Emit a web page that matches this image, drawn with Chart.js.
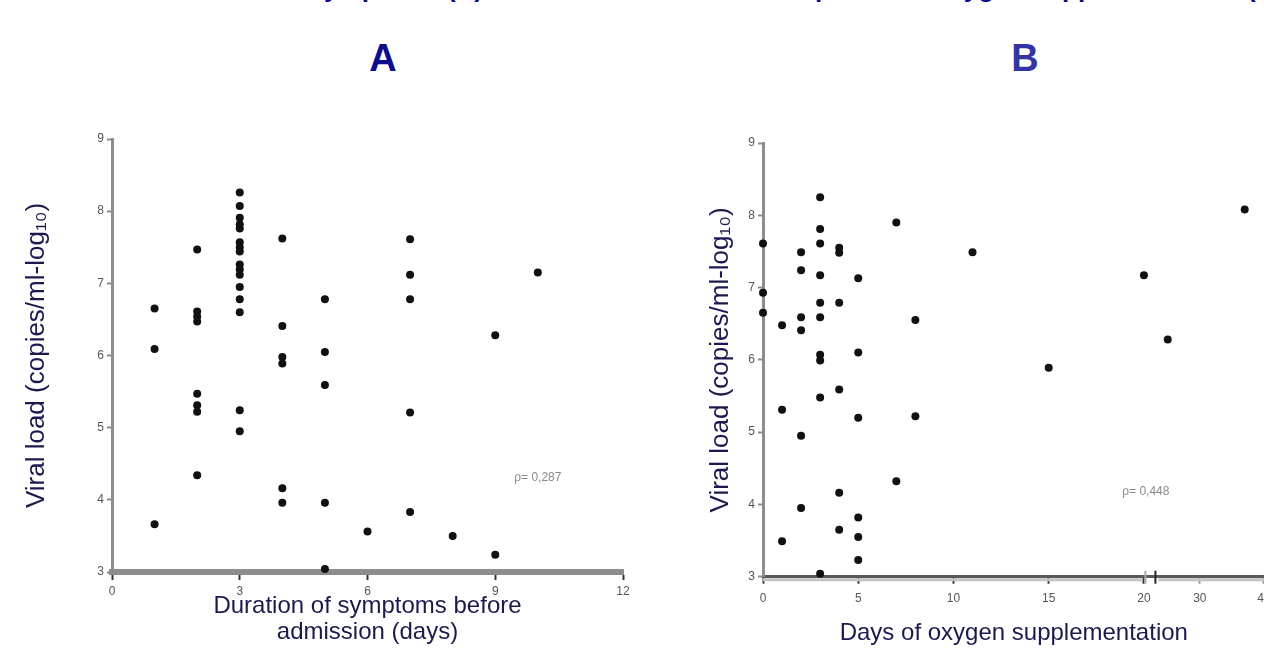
<!DOCTYPE html>
<html><head><meta charset="utf-8">
<script src="https://cdn.jsdelivr.net/npm/chart.js@4"></script>
<style>
html,body{margin:0;padding:0;width:1264px;height:671px;overflow:hidden;background:#fff;position:relative;font-family:"Liberation Sans",Arial,sans-serif}
.t{position:absolute;white-space:nowrap;font-weight:bold;font-size:26px;line-height:30px;color:#0c0c8c;top:-27px}
.h{position:absolute;font-weight:bold;font-size:38px;line-height:40px;width:100px;text-align:center;top:38px}
#ca{position:absolute;left:0;top:100px}
#cb{position:absolute;left:680px;top:100px}
</style></head>
<body>
<div class="t" style="right:781px">Correlation between viral load and duration of symptoms (A)</div>
<div class="t" style="right:-19px">and period of oxygen supplementation (B)</div>
<div class="h" style="left:333px;color:#0c0c8c">A</div>
<div class="h" style="left:975px;color:#3434a4">B</div>
<canvas id="ca" width="645" height="571"></canvas>
<canvas id="cb" width="620" height="571"></canvas>
<script>
// ---- Panel A: duration of symptoms before admission (days) vs viral load (log10 copies/ml)
const aDays = [1,1,1, 2,2,2,2,2,2,2,2, 3,3,3,3,3,3,3,3,3,3,3,3,3,3,3,3, 4,4,4,4,4,4, 5,5,5,5,5, 6, 7,7,7,7,7, 8, 9,9, 10];
const aLoad = [6.65,6.09,3.66, 7.47,6.61,6.54,6.47,5.47,5.31,5.22,4.34,
  8.26,8.07,7.91,7.82,7.76,7.57,7.50,7.44,7.26,7.19,7.12,6.95,6.78,6.60,5.24,4.95,
  7.62,6.41,5.98,5.89,4.16,3.96, 6.78,6.05,5.59,3.96,3.04, 3.56,
  7.61,7.12,6.78,5.21,3.83, 3.50, 6.28,3.24, 7.15];
// ---- Panel B: days of oxygen supplementation vs viral load
const bDays = [3,0,2,3,3,4,4,7,11,2,3,5,20,0,3,4,0,2,3,1,2,8,3,3,5,15,4,3,1,5,8,2,7,4,2,5,4,5,1,5,3, 25,37];
const bLoad = [8.25,7.61,7.49,7.81,7.61,7.55,7.48,7.90,7.49,7.24,7.17,7.13,7.17,6.93,6.79,6.79,6.65,6.59,6.59,6.48,6.41,6.55,6.07,5.99,6.10,5.89,5.59,5.48,5.31,5.20,5.22,4.95,4.32,4.16,3.95,3.82,3.65,3.55,3.49,3.23,3.04, 6.28,8.08];
const yTicks = [3,4,5,6,7,8,9];
const aXTicks = [0,3,6,9,12];
const bXTicks = [0,5,10,15,20];
const bXTicksLate = [30,40];
const BREAK_AT = 21;
const aRho = 'ρ= 0,287';
const bRho = 'ρ= 0,448';
const yTitle = 'Viral load (copies/ml-log₁₀)';
const aXTitle = ['Duration of symptoms before','admission (days)'];
const bXTitle = 'Days of oxygen supplementation';

Chart.defaults.font.family = "'Liberation Sans', Arial, 'DejaVu Sans', sans-serif";
const TITLE_COLOR = '#1a1a4e';
const TICK_COLOR = '#555';

const rhoPlugin = {
  id: 'rho',
  afterDatasetsDraw(chart, args, opts) {
    const xs = chart.scales[opts.xAxis], ys = chart.scales.y, ctx = chart.ctx;
    ctx.save();
    ctx.font = "12px 'Liberation Sans', Arial, sans-serif";
    ctx.fillStyle = '#8a8a8a';
    ctx.textAlign = 'center';
    ctx.textBaseline = 'middle';
    ctx.fillText(opts.text, xs.getPixelForValue(opts.x), ys.getPixelForValue(opts.y));
    ctx.restore();
  }
};
const breakPlugin = {
  id: 'axisBreak',
  afterDraw(chart) {
    if (!chart.scales.x2) return;
    const ctx = chart.ctx, xs = chart.scales.x, b = chart.chartArea.bottom;
    ctx.save();
    ctx.lineWidth = 2;
    ctx.strokeStyle = '#aaa';
    ctx.beginPath(); ctx.moveTo(xs.right - 5, b - 6); ctx.lineTo(xs.right - 5, b + 7); ctx.stroke();
    ctx.strokeStyle = '#222';
    ctx.beginPath(); ctx.moveTo(xs.right + 5, b - 6); ctx.lineTo(xs.right + 5, b + 7); ctx.stroke();
    // light band under the dark axis line
    ctx.strokeStyle = '#c4c4c4';
    ctx.lineWidth = 3;
    ctx.beginPath(); ctx.moveTo(chart.chartArea.left, b + 3); ctx.lineTo(xs.right - 8, b + 3); ctx.moveTo(xs.right + 8, b + 3); ctx.lineTo(chart.chartArea.right, b + 3); ctx.stroke();
    ctx.restore();
  }
};

function pts(days, load, keep) {
  const out = [];
  days.forEach((d, i) => { if (keep(d)) out.push({x: d, y: load[i]}); });
  return out;
}
function pointDs(data, axis) {
  return {data, xAxisID: axis, pointRadius: 4, pointHoverRadius: 4, backgroundColor: '#111', borderWidth: 0, clip: false};
}
function yScale(width, titlePad) {
  return {
    type: 'linear', min: 3, max: 9,
    afterBuildTicks: s => { s.ticks = yTicks.map(v => ({value: v})); },
    afterFit: s => { s.width = width; },
    border: {display: true, color: '#8d8d8d', width: 3},
    grid: {display: true, drawOnChartArea: false, drawTicks: true, tickLength: 5, tickColor: '#8d8d8d', tickWidth: 2},
    ticks: {color: TICK_COLOR, font: {size: 12}, padding: 3},
    title: {display: true, text: yTitle, color: TITLE_COLOR, font: {size: 26, lineHeight: 1.2}, padding: {top: titlePad, bottom: 0}}
  };
}

new Chart(document.getElementById('ca'), {
  type: 'scatter',
  data: {datasets: [pointDs(pts(aDays, aLoad, () => true), 'x')]},
  options: {
    responsive: false, animation: false, events: [],
    layout: {padding: {top: 39, right: 22, left: 0, bottom: 0}},
    plugins: {legend: {display: false}, tooltip: {enabled: false}, rho: {text: aRho, x: 10, y: 4.31, xAxis: 'x'}},
    scales: {
      x: {
        type: 'linear', min: 0, max: 12,
        afterBuildTicks: s => { s.ticks = aXTicks.map(v => ({value: v})); },
        afterFit: s => { s.height = 99; },
        border: {display: true, color: '#8d8d8d', width: 6},
        grid: {display: true, drawOnChartArea: false, drawTicks: true, tickLength: 8, tickColor: '#333', tickWidth: 2},
        ticks: {color: TICK_COLOR, font: {size: 12}, padding: 4, maxRotation: 0},
        title: {display: true, text: aXTitle, color: TITLE_COLOR, font: {size: 24, lineHeight: 1.1}, padding: {top: 0, bottom: 25.4}}
      },
      y: yScale(112, 21.4)
    }
  },
  plugins: [rhoPlugin]
});

new Chart(document.getElementById('cb'), {
  type: 'scatter',
  data: {datasets: [
    pointDs(pts(bDays, bLoad, d => d <= BREAK_AT), 'x'),
    pointDs(pts(bDays, bLoad, d => d > BREAK_AT), 'x2')
  ]},
  options: {
    responsive: false, animation: false, events: [],
    layout: {padding: {top: 43, right: 35.4, left: 0, bottom: 0}},
    plugins: {legend: {display: false}, tooltip: {enabled: false}, rho: {text: bRho, x: 20.1, y: 4.17, xAxis: 'x'}},
    scales: {
      x: {
        type: 'linear', position: 'bottom', min: 0, max: 20.34, stack: 'bx', stackWeight: 387.1,
        afterBuildTicks: s => { s.ticks = bXTicks.map(v => ({value: v})); },
        afterFit: s => { s.height = 32; },
        border: {display: true, color: '#5a5a5a', width: 3},
        grid: {display: true, drawOnChartArea: false, drawTicks: true, tickLength: 7, tickColor: '#333', tickWidth: 2},
        ticks: {color: TICK_COLOR, font: {size: 12}, padding: 8, maxRotation: 0}
      },
      x2: {
        type: 'linear', position: 'bottom', min: 22.3, max: 40.1, stack: 'bx', stackWeight: 114.1,
        afterBuildTicks: s => { s.ticks = bXTicksLate.map(v => ({value: v})); },
        afterFit: s => { s.height = 32; },
        border: {display: true, color: '#5a5a5a', width: 3},
        grid: {display: true, drawOnChartArea: false, drawTicks: true, tickLength: 7, tickColor: '#999', tickWidth: 2},
        ticks: {color: TICK_COLOR, font: {size: 12}, padding: 8, maxRotation: 0}
      },
      xt: {
        type: 'linear', position: 'bottom',
        afterFit: s => { s.height = 62.3; },
        border: {display: false}, grid: {display: false}, ticks: {display: false},
        title: {display: true, text: bXTitle, color: TITLE_COLOR, font: {size: 24, lineHeight: 1.2}, padding: {top: 0, bottom: 23.6}}
      },
      y: yScale(83, 25.4)
    }
  },
  plugins: [rhoPlugin, breakPlugin]
});
</script>
</body></html>
